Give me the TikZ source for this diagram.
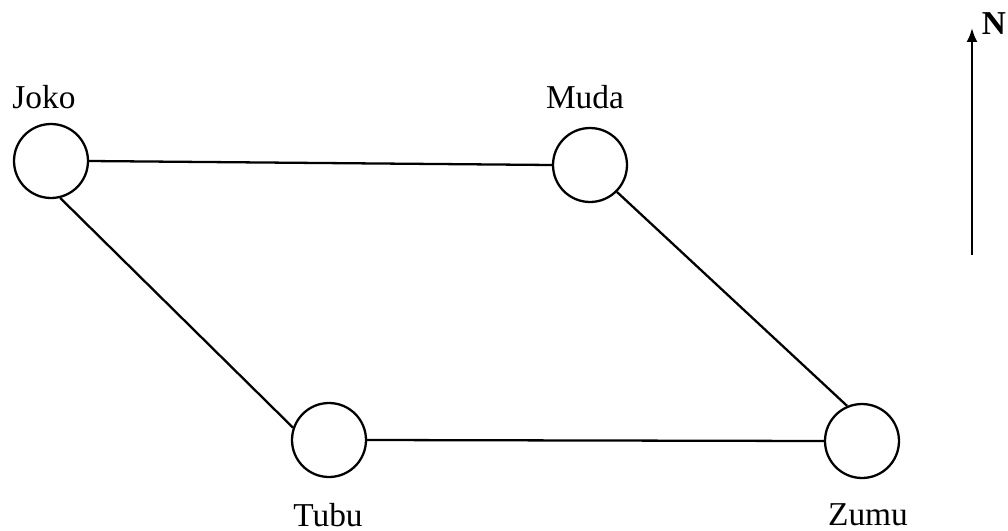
\documentclass[tikz,border=0pt]{standalone}
\usepackage{fontspec}
\setmainfont{Liberation Serif}
\usepackage{tikz}
\usetikzlibrary{arrows.meta}

\begin{document}
\begin{tikzpicture}[x=0.02cm,y=-0.02cm,line width=1.3pt,
  town/.style={draw,circle,minimum size=1.48cm,inner sep=0pt},
  townname/.style={font=\fontsize{19}{21}\selectfont}]
  \useasboundingbox (0,0) rectangle (1008,531);
  \node[town] (joko) at (51,161) {};
  \node[town] (muda) at (590,165) {};
  \node[town] (tubu) at (329,440) {};
  \node[town] (zumu) at (862,441) {};
  \node[townname] (jokoname) at (44,97) {Joko};
  \node[townname] (mudaname) at (585,97) {Muda};
  \node[townname] (tubuname) at (328,515) {Tubu};
  \node[townname] (zumuname) at (868,515) {Zumu};
  \draw (joko.east) -- (muda.west);
  \draw (tubu.east) -- (zumu.west);
  \draw (joko.-76) -- (tubu.161);
  \draw (muda.-45) -- (zumu.113);
  \coordinate (tail) at (972,255);
  \coordinate (head) at (972,28);
  \draw[-{Latex[length=2.8mm,width=2.2mm]}] (tail) -- (head);
  \node[font=\fontsize{19}{21}\selectfont\bfseries] (north) at (994,24) {N};
\end{tikzpicture}
\end{document}
